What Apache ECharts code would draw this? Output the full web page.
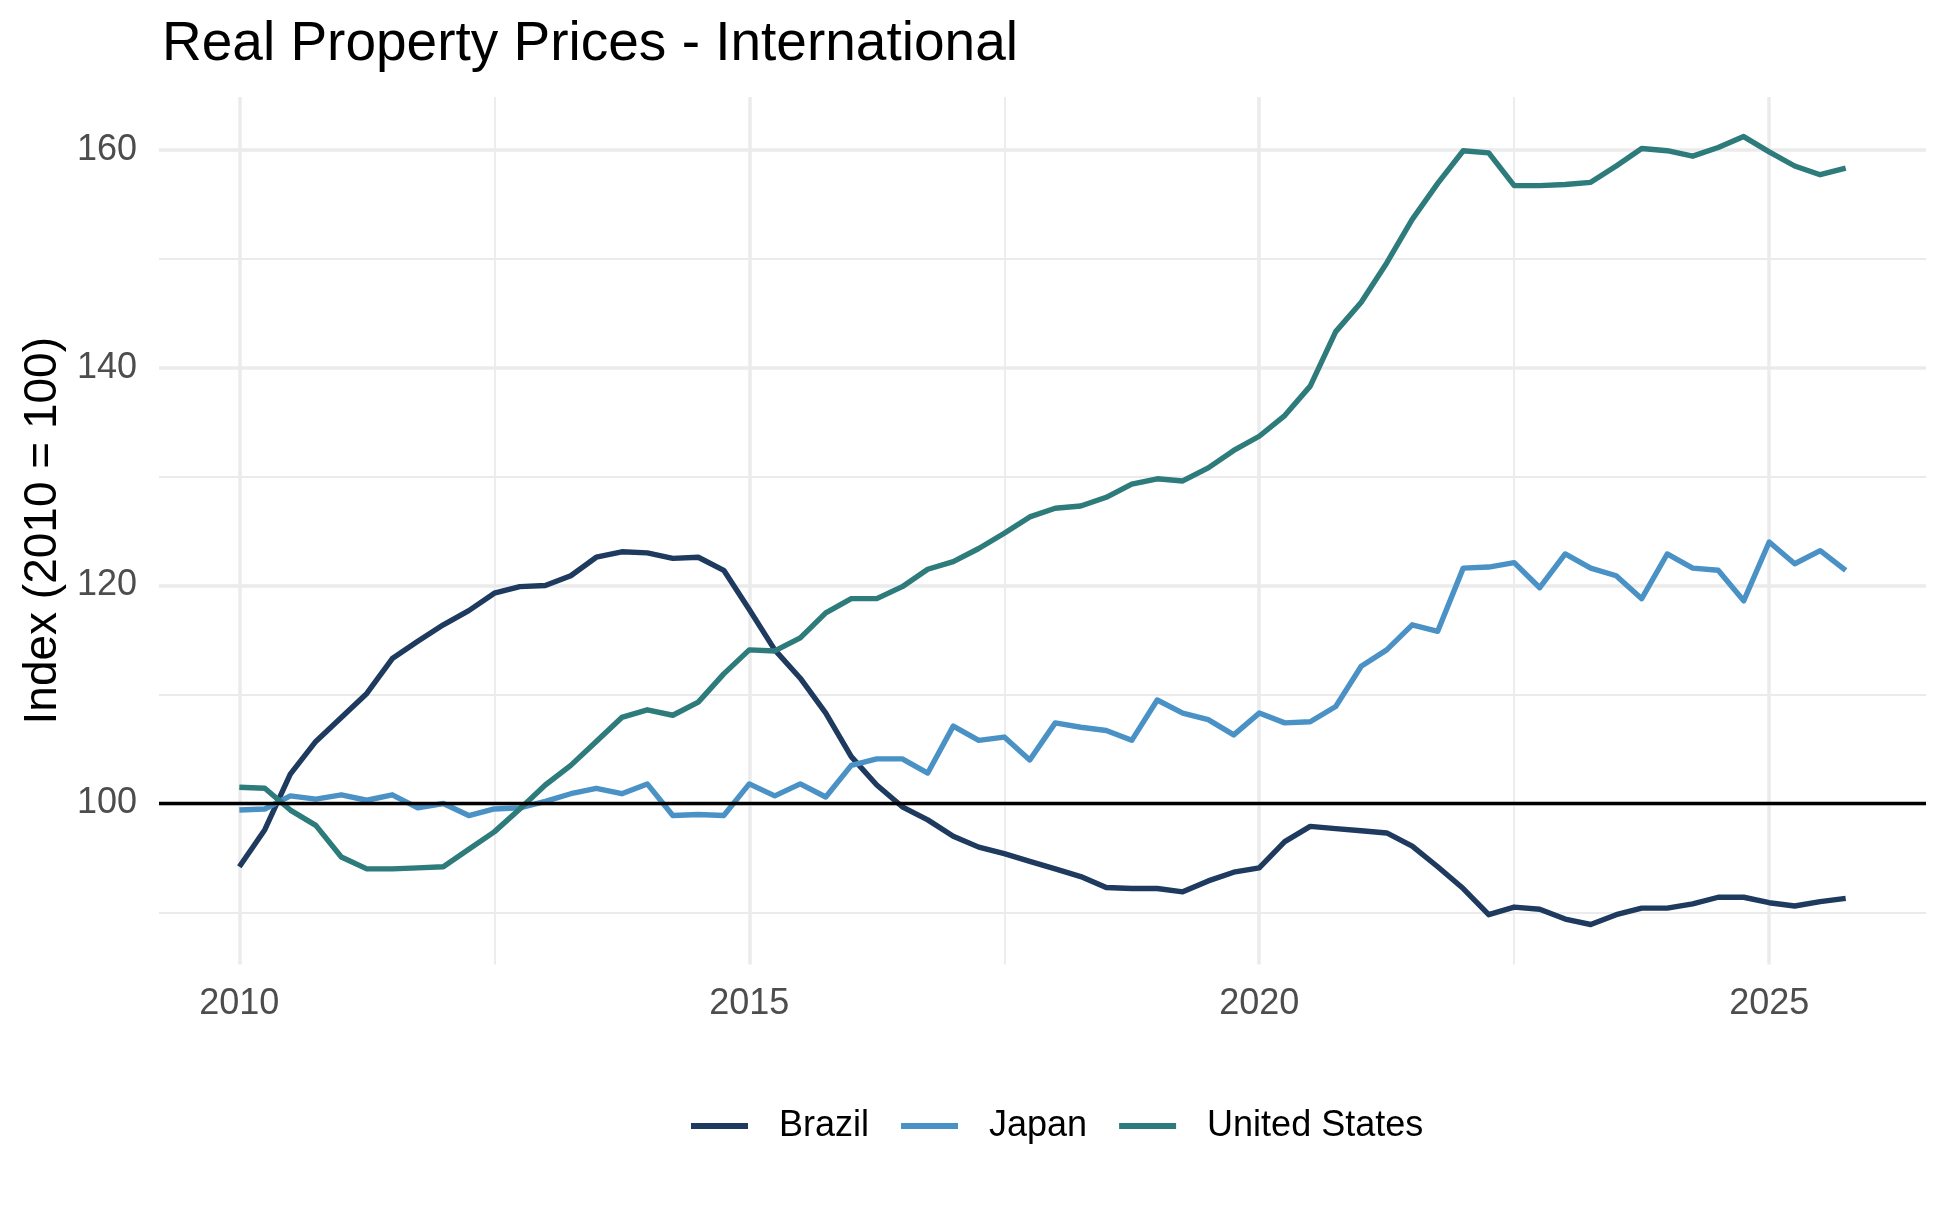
<!DOCTYPE html>
<html>
<head>
    <meta charset="UTF-8">
    <title>Real Property Prices - International</title>
    <style>
        html, body { margin: 0; padding: 0; background: #fff; }
        #main { width: 1950px; height: 1205px; }
    </style>
    <script src="https://cdn.jsdelivr.net/npm/echarts@6/dist/echarts.min.js"></script>
</head>
<body>
<div id="main"></div>
<script type="text/javascript">
    // quarterly index values, 2010 Q1 .. 2025 Q4 (2010 = 100)
    var brazil = [
        94.2, 97.6, 102.7, 105.7, 107.9, 110.1, 113.3, 114.9,
        116.4, 117.7, 119.3, 119.9, 120.0, 120.9, 122.6, 123.1,
        123.0, 122.5, 122.6, 121.4, 117.8, 114.1, 111.5, 108.3,
        104.3, 101.7, 99.7, 98.5, 97.0, 96.0, 95.4, 94.7,
        94.0, 93.3, 92.3, 92.2, 92.2, 91.9, 92.9, 93.7,
        94.1, 96.5, 97.9, 97.7, 97.5, 97.3, 96.1, 94.2,
        92.2, 89.8, 90.5, 90.3, 89.4, 88.9, 89.8, 90.4,
        90.4, 90.8, 91.4, 91.4, 90.9, 90.6, 91.0, 91.3
    ];
    var japan = [
        99.4, 99.5, 100.7, 100.4, 100.8, 100.3, 100.8, 99.6,
        100.0, 98.9, 99.5, 99.6, 100.2, 100.9, 101.4, 100.9,
        101.8, 98.9, 99.0, 98.9, 101.8, 100.7, 101.8, 100.6,
        103.5, 104.1, 104.1, 102.8, 107.1, 105.8, 106.1, 104.0,
        107.4, 107.0, 106.7, 105.8, 109.5, 108.3, 107.7, 106.3,
        108.3, 107.4, 107.5, 108.9, 112.6, 114.1, 116.4, 115.8,
        121.6, 121.7, 122.1, 119.8, 122.9, 121.6, 120.9, 118.8,
        122.9, 121.6, 121.4, 118.6, 124.0, 122.0, 123.2, 121.4
    ];
    var unitedStates = [
        101.5, 101.4, 99.4, 98.0, 95.1, 94.0, 94.0, 94.1,
        94.2, 95.8, 97.4, 99.5, 101.7, 103.5, 105.7, 107.9,
        108.6, 108.1, 109.3, 111.9, 114.1, 114.0, 115.2, 117.5,
        118.8, 118.8, 119.9, 121.5, 122.2, 123.4, 124.8, 126.3,
        127.1, 127.3, 128.1, 129.3, 129.8, 129.6, 130.8, 132.4,
        133.7, 135.6, 138.3, 143.3, 146.0, 149.6, 153.6, 156.9,
        159.9, 159.7, 156.7, 156.7, 156.8, 157.0, 158.5, 160.1,
        159.9, 159.4, 160.2, 161.2, 159.8, 158.5, 157.7, 158.3
    ];
    var firstYear = 2010;
    var xMinorGrid = [2012.5, 2017.5, 2022.5];
    var yMinorGrid = [90, 110, 130, 150];
    var refLevel = 100;

    // 季度 -> 小数年份
    function pairs(values) {
        return values.map(function (v, i) { return [firstYear + i / 4, v]; });
    }

    var font = 'Liberation Sans, Helvetica, Arial, sans-serif';
    var myChart = echarts.init(document.getElementById('main'));

    var minorLines = xMinorGrid.map(function (v) { return {xAxis: v}; })
        .concat(yMinorGrid.map(function (v) { return {yAxis: v}; }));

    var option = {
        animation: false,
        backgroundColor: '#fff',
        textStyle: {fontFamily: font},
        title: {
            text: 'Real Property Prices - International',
            left: 157,
            top: 12,
            textStyle: {fontSize: 55, fontWeight: 'normal', color: '#000', fontFamily: font}
        },
        legend: {
            data: ['Brazil', 'Japan', 'United States'],
            left: 686,
            top: 1103,
            icon: 'rect',
            itemWidth: 57,
            itemHeight: 6,
            itemGap: 32,
            textStyle: {fontSize: 36, color: '#000', fontFamily: font, padding: [0, 0, 0, 26]}
        },
        grid: {left: 159, right: 24, top: 97, height: 867.5, containLabel: false},
        xAxis: {
            type: 'value',
            min: 2009.2125,
            max: 2026.5375,
            splitNumber: 4,
            minInterval: 5,
            maxInterval: 5,
            axisLine: {show: false},
            axisTick: {show: false},
            axisLabel: {
                showMinLabel: false,
                showMaxLabel: false,
                margin: 22,
                fontSize: 36,
                color: '#4D4D4D',
                fontFamily: font,
                formatter: function (v) { return String(v); }
            },
            splitLine: {show: true, showMinLine: false, showMaxLine: false, lineStyle: {color: '#EBEBEB', width: 3.5}}
        },
        yAxis: {
            type: 'value',
            min: 85.23,
            max: 164.83,
            splitNumber: 4,
            minInterval: 20,
            maxInterval: 20,
            name: 'Index (2010 = 100)',
            nameLocation: 'middle',
            nameRotate: 90,
            nameGap: 89,
            nameTextStyle: {fontSize: 46, color: '#000', fontFamily: font},
            axisLine: {show: false},
            axisTick: {show: false},
            axisLabel: {
                showMinLabel: false,
                showMaxLabel: false,
                margin: 22,
                fontSize: 36,
                color: '#4D4D4D',
                fontFamily: font
            },
            splitLine: {show: true, showMinLine: false, showMaxLine: false, lineStyle: {color: '#EBEBEB', width: 3.5}}
        },
        series: [
            {
                name: 'minor-grid',
                type: 'line',
                data: [],
                z: 1,
                silent: true,
                markLine: {
                    z: 1,
                    silent: true,
                    symbol: 'none',
                    label: {show: false},
                    lineStyle: {color: '#EBEBEB', width: 1.8, type: 'solid'},
                    emphasis: {disabled: true},
                    data: minorLines
                }
            },
            {
                name: 'Brazil',
                type: 'line',
                showSymbol: false,
                color: '#1F3A5F',
                lineStyle: {width: 5.4, color: '#1F3A5F', join: 'round'},
                data: pairs(brazil)
            },
            {
                name: 'Japan',
                type: 'line',
                showSymbol: false,
                color: '#4A92C6',
                lineStyle: {width: 5.4, color: '#4A92C6', join: 'round'},
                data: pairs(japan)
            },
            {
                name: 'United States',
                type: 'line',
                showSymbol: false,
                color: '#2D7B7B',
                lineStyle: {width: 5.4, color: '#2D7B7B', join: 'round'},
                data: pairs(unitedStates)
            },
            {
                name: 'ref',
                type: 'line',
                data: [],
                z: 5,
                silent: true,
                markLine: {
                    silent: true,
                    symbol: 'none',
                    label: {show: false},
                    lineStyle: {color: '#000', width: 3.3, type: 'solid'},
                    emphasis: {disabled: true},
                    data: [{yAxis: refLevel}]
                }
            }
        ]
    };
    myChart.setOption(option);
</script>
</body>
</html>
